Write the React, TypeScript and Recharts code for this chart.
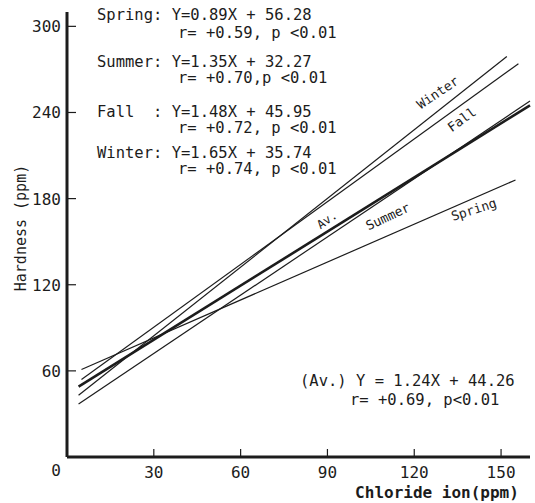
import { LineChart, Line, XAxis, YAxis } from 'recharts';

// regression lines, end points (x = chloride, y = hardness)
const springPts = [{ x: 5, y: 61 }, { x: 155, y: 193 }];
const summerPts = [{ x: 4, y: 37 }, { x: 160, y: 248 }];
const fallPts = [{ x: 5, y: 54 }, { x: 156, y: 274 }];
const winterPts = [{ x: 4, y: 43 }, { x: 152, y: 279 }];
const avPts = [{ x: 4, y: 49 }, { x: 160, y: 245 }];

const xTicks = [30, 60, 90, 120, 150];
const yTicks = [0, 60, 120, 180, 240, 300];

const eqRows = [
    ['Spring: Y=0.89X + 56.28', 'r= +0.59, p <0.01'],
    ['Summer: Y=1.35X + 32.27', 'r= +0.70,p <0.01'],
    ['Fall  : Y=1.48X + 45.95', 'r= +0.72, p <0.01'],
    ['Winter: Y=1.65X + 35.74', 'r= +0.74, p <0.01'],
];
const avRow = ['(Av.) Y = 1.24X + 44.26', 'r= +0.69, p<0.01'];

const ink = '#1c1c1c';
const mono = '"DejaVu Sans Mono", monospace';

const XTick = (props: any) => {
    const { x, y, payload } = props;
    return (
        <g>
            <line x1={x} y1={y} x2={x} y2={y - 8} stroke={ink} strokeWidth={1.2} />
            <text x={x} y={y + 21} textAnchor="middle" fontFamily={mono} fontSize={16} fill={ink}>
                {payload.value}
            </text>
        </g>
    );
};

const YTick = (props: any) => {
    const { x, y, payload } = props;
    const zero = payload.value === 0;
    return (
        <g>
            {!zero && <line x1={x} y1={y} x2={x + 9} y2={y} stroke={ink} strokeWidth={1.2} />}
            <text x={x - 6} y={y + (zero ? 19 : 6)} textAnchor="end" fontFamily={mono} fontSize={16} fill={ink}>
                {payload.value}
            </text>
        </g>
    );
};

const rowY = [[20, 38], [67, 83], [117, 133], [158, 174]];

export default function App() {
    return (
        <div style={{ position: 'relative', width: 535, height: 503, background: '#fff' }}>
            <style>{'body{margin:0;background:#fff}'}</style>
            <LineChart width={535} height={503} margin={{ top: 12, right: 5, bottom: 0, left: 0 }}>
                <XAxis
                    type="number"
                    dataKey="x"
                    domain={[0, 160]}
                    ticks={xTicks}
                    tick={<XTick />}
                    tickSize={0}
                    tickMargin={0}
                    tickLine={false}
                    height={46}
                    axisLine={{ stroke: ink, strokeWidth: 3 }}
                />
                <YAxis
                    type="number"
                    domain={[0, 310]}
                    ticks={yTicks}
                    tick={<YTick />}
                    tickSize={0}
                    tickMargin={0}
                    tickLine={false}
                    width={67}
                    axisLine={{ stroke: ink, strokeWidth: 3 }}
                />
                <Line data={springPts} dataKey="y" stroke={ink} strokeWidth={1.2} dot={false} isAnimationActive={false} />
                <Line data={summerPts} dataKey="y" stroke={ink} strokeWidth={1.2} dot={false} isAnimationActive={false} />
                <Line data={fallPts} dataKey="y" stroke={ink} strokeWidth={1.2} dot={false} isAnimationActive={false} />
                <Line data={winterPts} dataKey="y" stroke={ink} strokeWidth={1.2} dot={false} isAnimationActive={false} />
                <Line data={avPts} dataKey="y" stroke={ink} strokeWidth={2.6} dot={false} isAnimationActive={false} />
            </LineChart>
            <svg
                width={535}
                height={503}
                style={{ position: 'absolute', left: 0, top: 0, pointerEvents: 'none' }}
                fontFamily={mono}
                fill={ink}
            >
                {eqRows.map((r, i) => (
                    <g key={r[0]}>
                        <text x={97} y={rowY[i][0]} fontSize={15.5} style={{ whiteSpace: 'pre' }}>{r[0]}</text>
                        <text x={178} y={rowY[i][1]} fontSize={15.5}>{r[1]}</text>
                    </g>
                ))}
                <text x={300} y={386} fontSize={15.5}>{avRow[0]}</text>
                <text x={350} y={405} fontSize={15.5}>{avRow[1]}</text>

                <text x={438} y={97} fontSize={13} textAnchor="middle" transform="rotate(-34 438 93)">Winter</text>
                <text x={462} y={124} fontSize={13} textAnchor="middle" transform="rotate(-36 462 120)">Fall</text>
                <text x={327} y={224} fontSize={12} textAnchor="middle" transform="rotate(-35 327 220)">Av.</text>
                <text x={388} y={221} fontSize={13} textAnchor="middle" transform="rotate(-25 388 217)">Summer</text>
                <text x={474} y={214} fontSize={13} textAnchor="middle" transform="rotate(-18 474 210)">Spring</text>

                <text x={26} y={228} fontSize={15} textAnchor="middle" transform="rotate(-90 26 228)">Hardness (ppm)</text>
                <text x={437} y={498} fontSize={16} fontWeight="bold" textAnchor="middle">Chloride ion(ppm)</text>
            </svg>
        </div>
    );
}
